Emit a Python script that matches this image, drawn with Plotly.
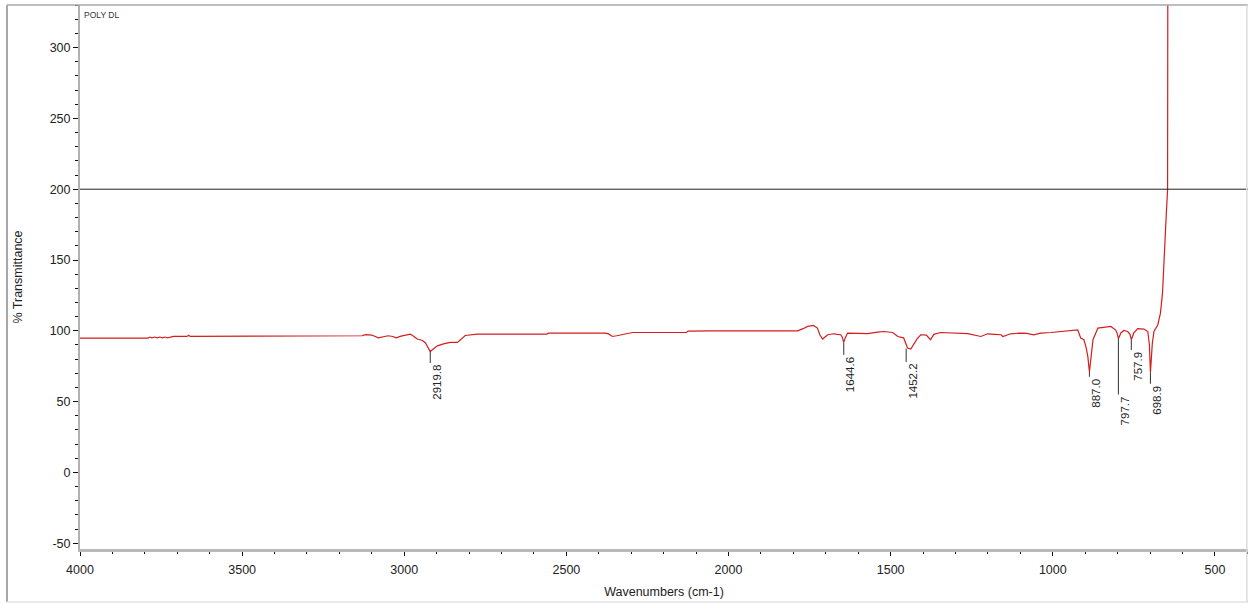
import plotly.graph_objects as go

# ---- Spectrum data ----
wavenumber = [4000, 3900, 3855, 3850, 3845, 3790, 3785, 3778, 3770, 3762, 3754, 3746, 3738, 3730, 3720, 3712,
              3670, 3665, 3660, 3500, 3260, 3255, 3130, 3120, 3100, 3080, 3060, 3050, 3035, 3025, 3010,
              2995, 2981, 2970, 2960, 2944, 2935, 2920, 2910, 2898, 2879, 2858, 2836, 2827, 2812, 2775,
              2560, 2555, 2380, 2370, 2358, 2345, 2330, 2324, 2296, 2130, 2125, 2056, 1787, 1770, 1756,
              1738, 1726, 1718, 1710, 1694, 1676, 1665, 1654, 1649, 1645, 1640, 1633, 1600, 1571, 1540,
              1521, 1494, 1478, 1460, 1448, 1438, 1429, 1418, 1407, 1390, 1377, 1367, 1346, 1300, 1262,
              1222, 1201, 1180, 1160, 1154, 1130, 1099, 1080, 1059, 1037, 1006, 975, 945, 923, 914, 904,
              897, 892, 887, 882, 876, 861, 840, 821, 806, 801, 797.7, 790, 781, 769, 762, 757.9, 750, 738,
              719, 707, 702, 698.9, 693, 688, 676, 668, 661.6, 656.6, 653.5, 650.4, 646, 645]
transmittance = [94.9, 94.9, 94.9, 94.4, 94.9, 94.9, 95.6, 95.0, 95.6, 95.0, 95.6, 95.0, 95.6, 95.0, 95.6, 96.0,
                 96.0, 96.8, 96.0, 96.0, 96.0, 96.5, 96.5, 97.3, 97.0, 95.0, 96.0, 96.5, 96.0, 95.0, 96.2,
                 97.2, 97.7, 96.0, 94.2, 93.2, 91.6, 85.4, 87.5, 89.4, 90.8, 91.8, 91.8, 93.7, 96.7, 97.7,
                 97.7, 98.4, 98.4, 97.8, 96.0, 96.5, 97.2, 97.7, 98.8, 98.8, 99.8, 100.0, 100.0, 101.5, 103.1,
                 103.8, 101.9, 97.0, 94.2, 97.2, 97.9, 97.5, 97.2, 95.5, 91.8, 95.0, 98.4, 98.2, 98.0, 99.0,
                 99.5, 98.8, 96.0, 95.0, 87.8, 87.1, 90.1, 94.5, 97.2, 97.0, 93.7, 97.5, 98.8, 98.4, 98.0,
                 96.0, 97.9, 97.5, 97.2, 96.0, 97.9, 98.4, 98.2, 97.2, 98.4, 98.8, 99.5, 100.2, 100.7, 94.9, 93.7,
                 88.0, 81.9, 71.0, 82.0, 93.7, 101.9, 102.8, 103.1, 100.5, 98.0, 94.4, 98.5, 100.2, 99.5, 97.5, 93.7, 98.5, 101.5,
                 101.2, 99.5, 90.0, 70.4, 91.3, 99.5, 104.3, 112.5, 126.8, 155.1, 171.3, 180.5, 199.5, 400]

# ---- Peak labels ----
peak_labels = ["2919.8", "1644.6", "1452.2", "887.0", "797.7", "757.9", "698.9"]
peak_wn = [2919.8, 1644.6, 1452.2, 887.0, 797.7, 757.9, 698.9]
peak_T = [85.4, 91.8, 87.4, 71.0, 94.4, 93.7, 70.4]
label_T = [77.3, 83.0, 78.0, 67.5, 55.0, 86.5, 62.6]

# ---- Axis ticks ----
y_tickvals = [-50, 0, 50, 100, 150, 200, 250, 300]
y_ticktext = ["-50", "0", "50", "100", "150", "200", "250", "300"]

reference_level = 200
x_range = [4000, 398]
y_range = [-54.1, 330.1]

FONT = "Liberation Sans, Arial, sans-serif"

fig = go.Figure()
fig.add_trace(go.Scatter(
    x=wavenumber, y=transmittance, mode="lines",
    line=dict(color="rgb(210,30,30)", width=1.2),
    hoverinfo="x+y", showlegend=False,
))

shapes = []
annotations = []
# horizontal reference line
shapes.append(dict(type="line", xref="paper", x0=0, x1=1, yref="y",
                   y0=reference_level, y1=reference_level,
                   line=dict(color="#222222", width=1)))
# peak label lines and texts
for lab, wn, pt, lt in zip(peak_labels, peak_wn, peak_T, label_T):
    shapes.append(dict(type="line", xref="x", yref="y", x0=wn, x1=wn, y0=pt, y1=lt,
                       line=dict(color="#333333", width=1)))
    annotations.append(dict(x=wn, y=lt, xref="x", yref="y", text=lab, showarrow=False,
                            textangle=-90, xanchor="left", yanchor="top", xshift=-1, yshift=0,
                            font=dict(family=FONT, size=11.5, color="#222222")))

# outer frame
frame_x0 = -73 / 1168
frame_y0 = -53 / 544
shapes.append(dict(type="line", xref="paper", yref="paper", x0=frame_x0, x1=frame_x0, y0=frame_y0, y1=1,
                   line=dict(color="#a8a8a8", width=2)))
shapes.append(dict(type="line", xref="paper", yref="paper", x0=frame_x0, x1=1, y0=1, y1=1,
                   line=dict(color="#a8a8a8", width=1.5)))
shapes.append(dict(type="line", xref="paper", yref="paper", x0=frame_x0, x1=1, y0=frame_y0, y1=frame_y0,
                   line=dict(color="#e2e2e2", width=1.5)))
shapes.append(dict(type="line", xref="paper", yref="paper", x0=0.999, x1=0.999, y0=frame_y0, y1=1,
                   line=dict(color="#dcdcdc", width=1.5)))

annotations.append(dict(x=0, y=1, xref="paper", yref="paper", text="POLY DL", showarrow=False,
                        xanchor="left", yanchor="top", xshift=2, yshift=-3,
                        font=dict(family=FONT, size=8.5, color="#333333")))

fig.update_layout(
    width=1250, height=605,
    margin=dict(l=80, r=2, t=5, b=56),
    paper_bgcolor="white", plot_bgcolor="white",
    font=dict(family=FONT, size=12.5, color="#222222"),
    shapes=shapes, annotations=annotations,
    showlegend=False,
)
fig.update_xaxes(
    range=x_range, showgrid=False, zeroline=False,
    showline=True, linecolor="#b8b8b8", linewidth=3,
    ticks="outside", ticklen=4, tickwidth=1, tickcolor="#111111",
    tick0=0, dtick=500,
    minor=dict(ticks="outside", dtick=100, ticklen=2, tickcolor="#111111", showgrid=False),
    tickfont=dict(family=FONT, size=12.5, color="#222222"),
    ticklabelstandoff=3,
    title=dict(text="Wavenumbers (cm-1)", standoff=12,
               font=dict(family=FONT, size=12.5, color="#222222")),
)
fig.update_yaxes(
    range=y_range, showgrid=False, zeroline=False,
    showline=True, linecolor="#b0b0b0", linewidth=2,
    ticks="outside", ticklen=5, tickwidth=1, tickcolor="#111111",
    tickmode="array", tickvals=y_tickvals, ticktext=y_ticktext,
    minor=dict(ticks="outside", tickmode="linear", tick0=0, dtick=10, ticklen=3,
               tickcolor="#111111", showgrid=False),
    tickfont=dict(family=FONT, size=12.5, color="#222222"),
    title=dict(text="% Transmittance", standoff=24,
               font=dict(family=FONT, size=12.5, color="#222222")),
)

fig.write_html("out.html", config={"displayModeBar": False},
               post_script="document.body.style.margin='0px';")
